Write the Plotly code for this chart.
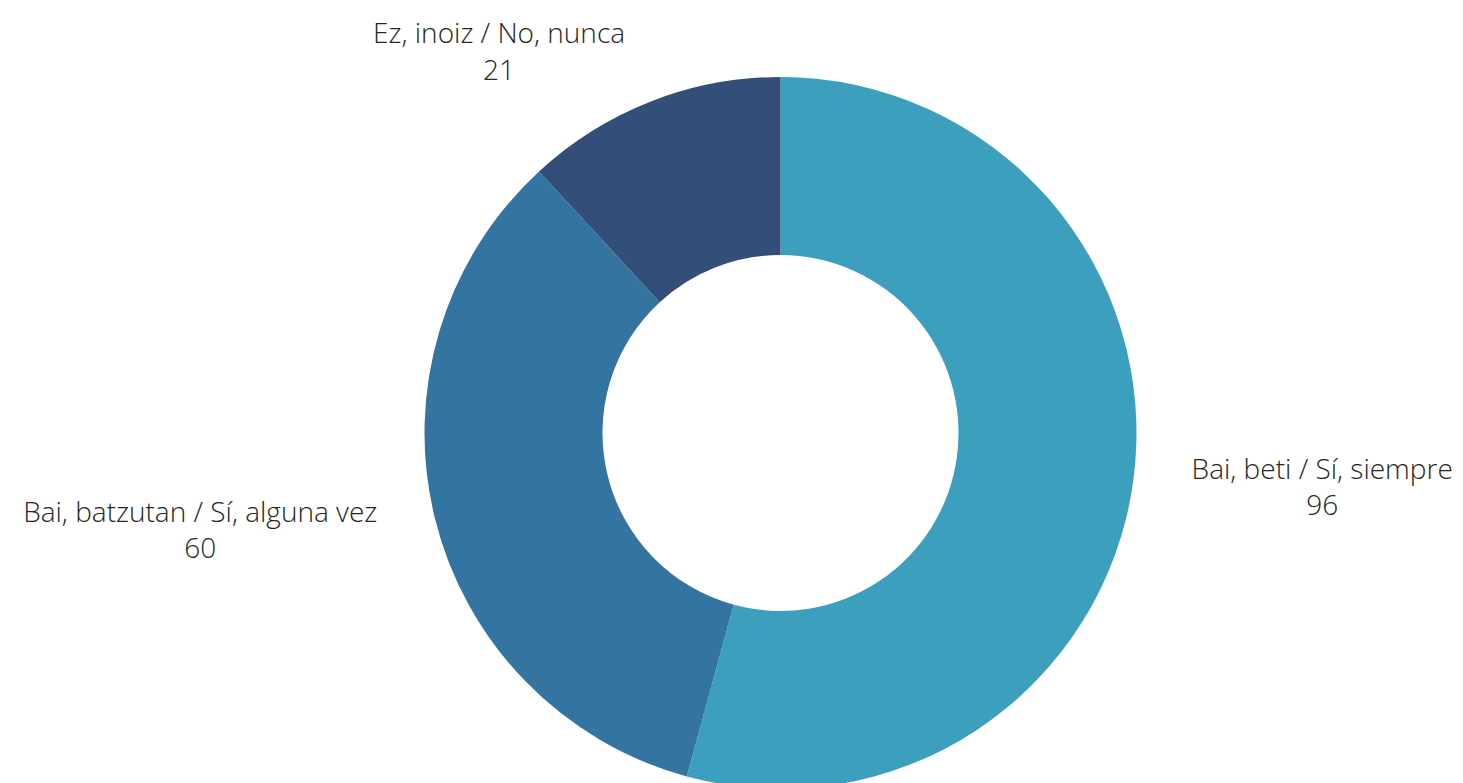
import plotly.graph_objects as go

labels = ["Bai, beti / Sí, siempre", "Bai, batzutan / Sí, alguna vez", "Ez, inoiz / No, nunca"]
values = [96, 60, 21]
colors = ["#3b9fbd", "#3375a0", "#324e79"]

FIG_W, FIG_H = 1463, 850
CX, CY = 772.5, 425            # donut centre in figure pixels
R_DONUT = 356                  # outer radius of the ring
R_LABEL_BASE = 360             # base radius of the label carrier
LABEL_PULL = [0.10, 0.10, 0.044]  # how far each label sits beyond the ring (style)


def ydomain(r):
    return [(FIG_H - CY - r) / FIG_H, (FIG_H - CY + r) / FIG_H]


def xdomain(r):
    half = max(r, 420)
    return [max(0.0, (CX - half) / FIG_W), min(1.0, (CX + half) / FIG_W)]


fig = go.Figure()

# visible donut
fig.add_trace(
    go.Pie(
        labels=labels,
        values=values,
        hole=0.5,
        sort=False,
        direction="clockwise",
        rotation=0,
        automargin=False,
        domain=dict(x=xdomain(R_DONUT), y=ydomain(R_DONUT)),
        marker=dict(colors=colors, line=dict(width=0)),
        textinfo="none",
        showlegend=False,
        hoverinfo="label+value",
    )
)

# transparent copy carrying the outside labels a little further out
label_box = R_LABEL_BASE * (1 + max(LABEL_PULL))
fig.add_trace(
    go.Pie(
        labels=labels,
        values=values,
        hole=0.9,
        sort=False,
        direction="clockwise",
        rotation=0,
        automargin=False,
        pull=LABEL_PULL,
        domain=dict(x=xdomain(label_box), y=ydomain(label_box)),
        marker=dict(colors=["rgba(0,0,0,0)"] * len(values), line=dict(width=0)),
        textposition="outside",
        texttemplate="%{label}<br>%{value}",
        textfont=dict(family="Open Sans", size=28, color="#262626", weight=300),
        showlegend=False,
        hoverinfo="skip",
    )
)

fig.update_layout(
    width=FIG_W,
    height=FIG_H,
    margin=dict(l=0, r=0, t=0, b=0),
    paper_bgcolor="white",
    plot_bgcolor="white",
    font=dict(family="Open Sans", weight=300),
)

fig.write_html("out.html")
